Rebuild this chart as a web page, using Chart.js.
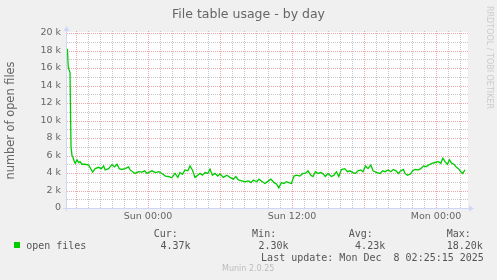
<!DOCTYPE html>
<html><head><meta charset="utf-8">
<script src="https://cdn.jsdelivr.net/npm/chart.js@4/dist/chart.umd.min.js"></script>
<style>
html,body{margin:0;padding:0;background:#f0f0f0;}
#wrap{position:relative;width:497px;height:280px;overflow:hidden;background:#f0f0f0;}
canvas{position:absolute;left:0;top:0;}
.t{position:absolute;white-space:pre;font-family:"DejaVu Sans Mono",monospace;font-size:10px;line-height:12px;color:#555;}
</style></head><body>
<div id="wrap">
<canvas id="c" width="497" height="280"></canvas>
<div id="title" style="position:absolute;left:0;top:5.6px;width:497px;text-align:center;font-family:'DejaVu Sans';font-size:12.5px;line-height:15px;color:#666;">File table usage - by day</div>
<div style="position:absolute;left:493.5px;top:5.5px;transform-origin:0 0;transform:rotate(90deg);white-space:pre;font-family:'DejaVu Sans';font-size:8px;line-height:10px;color:#cccccc;">RRDTOOL / TOBI OETIKER</div>
<div class="t" style="left:153.7px;top:227.5px;">Cur:</div>
<div class="t" style="left:252.1px;top:227.5px;">Min:</div>
<div class="t" style="left:348.7px;top:227.5px;">Avg:</div>
<div class="t" style="left:446.7px;top:227.5px;">Max:</div>
<div style="position:absolute;left:14px;top:242px;width:6px;height:6px;background:#00cc00;"></div>
<div class="t" style="left:26.2px;top:239.8px;">open files</div>
<div class="t" style="left:160.4px;top:239.8px;">4.37k</div>
<div class="t" style="left:258.4px;top:239.8px;">2.30k</div>
<div class="t" style="left:355.1px;top:239.8px;">4.23k</div>
<div class="t" style="left:446.7px;top:239.8px;">18.20k</div>
<div class="t" style="left:261.1px;top:252px;">Last update: Mon Dec  8 02:25:15 2025</div>
<div style="position:absolute;left:222px;top:264px;white-space:pre;font-family:'DejaVu Sans';font-size:8px;line-height:10px;color:#bbbbbb;">Munin 2.0.25</div>
</div>
<script>
// minutes relative to Sun 00:00
const times = [-405,-403,-399,-395,-390,-385,-380,-375,-370,-364,
-355,-347,-340,-330,-315,-297,-284,-277,-264,-247,
-234,-222,-214,-197,-180,-167,-155,-144,-130,-114,
-97,-89,-77,-64,-47,-30,-17,-5,7,20,
37,54,70,87,102,119,135,149,160,172,
185,199,210,222,235,249,260,272,285,299,
310,322,335,349,360,377,394,410,427,439,
452,469,485,502,515,527,544,555,572,585,
602,615,630,642,654,667,680,692,704,717,
730,742,759,775,787,800,814,825,837,850,
864,875,887,900,917,930,942,954,967,984,
997,1009,1025,1037,1050,1064,1075,1087,1100,1114,
1125,1144,1160,1174,1185,1202,1214,1227,1240,1252,
1264,1277,1285,1297,1310,1324,1335,1352,1364,1377,
1390,1402,1419,1435,1452,1464,1474,1485,1497,1507,
1519,1530,1540,1552,1564,1574,1585];
const openFiles = [17600,18200,16200,15800,15500,7000,6000,5800,5400,5100,
5500,5200,5300,5000,5000,4900,4400,4100,4500,4650,
4500,4800,4350,4500,4950,4700,5000,4500,4400,4500,
4700,4350,4150,3950,4150,4100,4250,3950,4100,4250,
4050,4150,3950,3650,3600,3450,3950,3500,4050,3850,
4350,4250,4800,4350,3500,3750,3950,3750,4050,3950,
4450,3750,3950,3650,3900,3500,3750,3500,3300,3600,
3200,3100,3000,3100,2900,3200,3000,3300,3000,2800,
3100,3300,2900,2750,2300,2900,2800,3000,2900,2800,
3650,3750,3650,3950,3950,4250,3750,3600,4150,3950,
4050,3900,3600,3950,3600,3750,4150,3600,4400,4500,
4150,4250,4050,3950,4250,4350,4150,4800,4500,4900,
4250,4050,3950,4250,4150,4350,4150,4400,4250,3950,
4250,4400,3950,3750,3850,4250,4400,4350,4500,4800,
4700,4900,5100,5200,5300,5100,5700,5300,5000,5500,
5100,5000,4700,4500,4150,3950,4370];
const xTickValues = [0, 720, 1440];
const xTickLabels = ['Sun 00:00', 'Sun 12:00', 'Mon 00:00'];
const yTickValues = [0,2000,4000,6000,8000,10000,12000,14000,16000,18000,20000];
const yTickLabels = ['0','2 k','4 k','6 k','8 k','10 k','12 k','14 k','16 k','18 k','20 k'];

const RED = 'rgba(224,80,80,0.5)';
const GRAY = 'rgba(144,144,144,0.5)';
const AXIS = '#cfd6f8';

// grid positions: every hour on x, every 1000 on y
const xGrid = [];
for (let v = -360; v <= 1560; v += 60) xGrid.push(v);
const yGrid = [];
for (let v = 0; v <= 20000; v += 1000) yGrid.push(v);

const frame = {
  id: 'frame',
  beforeDraw(chart) {
    const {ctx, chartArea: a} = chart;
    ctx.save();
    ctx.fillStyle = '#f0f0f0';
    ctx.fillRect(0, 0, chart.width, chart.height);
    ctx.fillStyle = '#ffffff';
    ctx.fillRect(a.left, a.top - 1, a.right - a.left, a.bottom - a.top + 1);
    ctx.restore();
  },
  beforeDatasetsDraw(chart) {
    const {ctx, chartArea: a, scales} = chart;
    const sx = scales.x, sy = scales.y;
    ctx.save();
    ctx.lineWidth = 1;
    ctx.setLineDash([1, 1]);
    for (const pass of [0, 1]) {
      for (const v of yGrid) {
        if (v === 0) continue;
        const major = v % 2000 === 0;
        if ((pass === 1) !== major) continue;
        const py = Math.round(sy.getPixelForValue(v)) + 0.5;
        ctx.strokeStyle = major ? RED : GRAY;
        ctx.beginPath(); ctx.moveTo(a.left, py); ctx.lineTo(a.right, py); ctx.stroke();
      }
      for (const v of xGrid) {
        const major = v % 360 === 0;
        if ((pass === 1) !== major) continue;
        const px = Math.round(sx.getPixelForValue(v)) + 0.5;
        ctx.strokeStyle = major ? RED : GRAY;
        ctx.beginPath(); ctx.moveTo(px, a.top - 2); ctx.lineTo(px, a.bottom); ctx.stroke();
      }
    }
    ctx.setLineDash([]);
    const yb = Math.round(a.bottom) + 0.5, xl = Math.round(a.left) - 0.5;
    ctx.strokeStyle = AXIS;
    ctx.beginPath();
    ctx.moveTo(a.left - 4, yb); ctx.lineTo(a.right + 2, yb);
    ctx.moveTo(xl, a.bottom + 3); ctx.lineTo(xl, a.top - 2);
    ctx.stroke();
    ctx.fillStyle = AXIS;
    ctx.beginPath();
    ctx.moveTo(a.right + 1, yb - 3); ctx.lineTo(a.right + 6, yb); ctx.lineTo(a.right + 1, yb + 3);
    ctx.closePath(); ctx.fill();
    ctx.beginPath();
    ctx.moveTo(xl - 3, a.top - 2); ctx.lineTo(xl, a.top - 7); ctx.lineTo(xl + 3, a.top - 2);
    ctx.closePath(); ctx.fill();
    ctx.restore();
  }
};

Chart.defaults.font.family = 'DejaVu Sans';
new Chart(document.getElementById('c'), {
  type: 'line',
  data: {
    datasets: [{
      label: 'open files',
      data: times.map((t, i) => ({x: t, y: openFiles[i]})),
      borderColor: '#00cc00',
      borderWidth: 1.3,
      pointRadius: 0,
      tension: 0,
      fill: false
    }]
  },
  options: {
    responsive: false,
    animation: false,
    devicePixelRatio: 1,
    layout: {padding: {top: 33, right: 29, left: 0, bottom: 0}},
    plugins: {legend: {display: false}, tooltip: {enabled: false}, title: {display: false}},
    scales: {
      x: {
        type: 'linear',
        min: -405, max: 1600,
        afterBuildTicks(scale) { scale.ticks = xGrid.map(v => ({value: v})); },
        afterFit(scale) { scale.height = 72; },
        ticks: {
          autoSkip: false, maxRotation: 0, minRotation: 0, padding: 3,
          color: '#666', font: {size: 9.5},
          callback(v) { const i = xTickValues.indexOf(v); return i >= 0 ? xTickLabels[i] : ''; }
        },
        grid: {display: false, drawTicks: false},
        border: {display: false}
      },
      y: {
        type: 'linear',
        min: 0, max: 20000,
        afterBuildTicks(scale) { scale.ticks = yGrid.map(v => ({value: v})); },
        afterFit(scale) { scale.width = 67; },
        ticks: {
          autoSkip: false, padding: 6,
          color: '#666', font: {size: 9.5},
          callback(v) { const i = yTickValues.indexOf(v); return i >= 0 ? yTickLabels[i] : ''; }
        },
        title: {display: true, text: 'number of open files', color: '#666', font: {size: 11.4}, padding: {top: 4, bottom: 4}},
        grid: {display: false, drawTicks: false},
        border: {display: false}
      }
    }
  },
  plugins: [frame]
});
</script>
</body></html>
